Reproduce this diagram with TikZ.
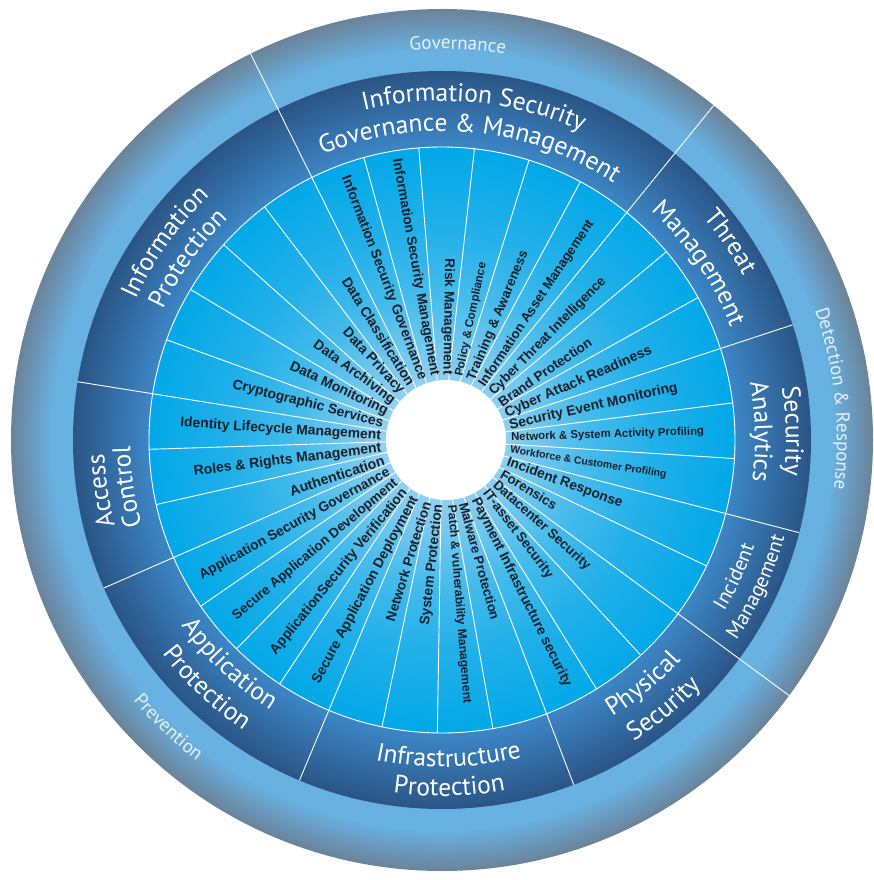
\documentclass[tikz,border=0pt]{standalone}
\usepackage{fontspec}
\usepackage{graphicx}
\usetikzlibrary{decorations.text}
\setmainfont{Liberation Sans}
\newfontfamily\ringfont{PT Sans}

% palette
\definecolor{rimlight}{HTML}{68B2E2}
\definecolor{rimgrey}{HTML}{6A8399}
\definecolor{bandouter}{HTML}{2A5585}
\definecolor{bandinner}{HTML}{3C86C6}
\definecolor{coreglow}{HTML}{B2E2F7}
\definecolor{corenear}{HTML}{8CCFEF}
\definecolor{coremid}{HTML}{45BBEB}
\definecolor{corefar}{HTML}{22B0E9}
\definecolor{coreedge}{HTML}{02A8E8}
\definecolor{labelink}{HTML}{18202C}
\definecolor{rimink}{HTML}{E8F2FA}

% radial shadings: 25bp is the rim of the shaded disc
\pgfdeclareradialshading{rimshade}{\pgfpoint{0bp}{0bp}}{color(0bp)=(rimlight); color(22.6bp)=(rimlight); color(25bp)=(rimgrey); color(50bp)=(rimgrey)}
\pgfdeclareradialshading{bandshade}{\pgfpoint{0bp}{0bp}}{color(0bp)=(bandinner); color(19.85bp)=(bandinner); color(25bp)=(bandouter); color(50bp)=(bandouter)}
\pgfdeclareradialshading{coreshade}{\pgfpoint{0bp}{0bp}}{color(0bp)=(coreglow); color(5.5bp)=(corenear); color(12.5bp)=(coremid); color(18bp)=(corefar); color(25bp)=(coreedge); color(50bp)=(coreedge)}

\tikzset{
  spoke/.style={white, line width=0.9pt},
  divider/.style={white, line width=0.9pt},
  sublabel/.style={inner sep=0pt, text=labelink, font=\bfseries},
  ringlabel/.style={decorate, decoration={text along path, text align=center, text color=#1}},
}

% curved text: centre angle, radius, font, text, colour
\newcommand\ringcw[5]{\path[ringlabel=#5, decoration={text={|#3|#4}}] ({#1+50}:#2) arc[start angle={#1+50}, end angle={#1-50}, radius=#2];}
\newcommand\ringccw[5]{\path[ringlabel=#5, decoration={text={|#3|#4}}] ({#1-50}:#2) arc[start angle={#1-50}, end angle={#1+50}, radius=#2];}
\newcommand\bandfont{\ringfont\fontsize{25.5}{30}\selectfont}
\newcommand\bandsmall{\ringfont\fontsize{20.5}{24}\selectfont}
\newcommand\rimfont{\ringfont\fontsize{19}{23}\selectfont}

\begin{document}
\begin{tikzpicture}[x=1pt, y=1pt]
\useasboundingbox (-442,-440) rectangle (431,440);

% three rings
\shade[shading=rimshade] (0,0) circle (431);
\shade[shading=bandshade] (0,0) circle (369);
\shade[shading=coreshade] (0,0) circle (293);

% spokes of the 33 sub-domains
\foreach \k in {0,...,32}
  \draw[spoke] (0,0) -- ({94.55-\k*360/33}:293);
\draw[divider] (0,0) circle (293);

% domain dividers in the band, three of them run through the rim
\foreach \k in {7,10,15,19,23,26}
  \draw[divider] ({94.55-\k*360/33}:293) -- ({94.55-\k*360/33}:369);
\foreach \k in {4,12,31}
  \draw[divider] ({94.55-\k*360/33}:293) -- ({94.55-\k*360/33}:431);

% hub
\fill[white] (4,0) circle (60);

% sub-domain labels, reading outward on the right
\begin{scope}[shift={(4,0)}]
\foreach \i/\llen/\txt in {
  1/116/{Policy \& Compliance},
  2/139/{Training \& Awareness},
  3/197/{Information Asset Management},
  4/160/{Cyber Threat Intelligence},
  5/110/{Brand Protection},
  6/159/{Cyber Attack Readiness},
  7/172/{Security Event Monitoring},
  8/193/{Network \& System Activity Profiling},
  9/158/{Workforce \& Customer Profiling},
  10/122/{Incident Response},
  11/63/{Forensics},
  12/126/{Datacenter Security},
  13/107/{IT-asset Security},
  14/209/{Payment Infrastructure security},
  15/121/{Malware Protection},
  16/199/{Patch \& vulnerability Management}} {
  \pgfmathsetmacro\labang{89.0909-\i*360/33}
  \node[sublabel, rotate=\labang, anchor=west] (s\i) at (\labang:65) {\resizebox{\llen pt}{!}{\txt}};
}
% and reading inward on the left
\foreach \i/\llen/\txt in {
  0/116/{Risk Management},
  17/121/{System Protection},
  18/124/{Network Protection},
  19/210/{Secure Application Deployment},
  20/209/{ApplicationSecurity Verification},
  21/211/{Secure Application Development},
  22/216/{Application Security Governance},
  23/99/{Authentication},
  24/189/{Roles \& Rights Management},
  25/201/{Identity Lifecycle Management},
  26/155/{Cryptographic Services},
  27/107/{Data Monitoring},
  28/98/{Data Archiving},
  29/84/{Data Privacy},
  30/125/{Data Classification},
  31/217/{Information Security Governance},
  32/220/{Information Security Management}} {
  \pgfmathsetmacro\labang{89.0909-\i*360/33}
  \node[sublabel, rotate=\labang+180, anchor=east] (s\i) at (\labang:65) {\resizebox{\llen pt}{!}{\txt}};
}
\end{scope}

% domain names in the band
\ringcw{84.5}{339}{\bandfont}{Information Security}{white}
\ringcw{84.5}{309}{\bandfont}{Governance {\&} Management}{white}
\ringcw{34.5}{343}{\bandfont}{Threat}{white}
\ringcw{34.5}{310}{\bandfont}{Management}{white}
\ringcw{1.5}{344}{\bandfont}{Security}{white}
\ringcw{1.5}{313}{\bandfont}{Analytics}{white}
\ringccw{-25}{330}{\bandsmall}{Incident}{white}
\ringccw{-25}{356}{\bandsmall}{Management}{white}
\ringccw{-50.5}{325}{\bandfont}{Physical}{white}
\ringccw{-50.5}{357}{\bandfont}{Security}{white}
\ringccw{-88.8}{327}{\bandfont}{Infrastructure}{white}
\ringccw{-88.8}{356}{\bandfont}{Protection}{white}
\ringccw{-133.5}{320}{\bandfont}{Application}{white}
\ringccw{-133.5}{352}{\bandfont}{Protection}{white}
\ringcw{188.5}{338}{\bandfont}{Access}{white}
\ringcw{188.5}{312}{\bandfont}{Control}{white}
\ringcw{144.5}{337}{\bandfont}{Information}{white}
\ringcw{144.5}{308}{\bandfont}{Protection}{white}

% phase names in the rim
\ringcw{87.7}{391}{\rimfont}{Governance}{rimink}
\ringcw{6}{395}{\rimfont}{Detection {\&} Response}{rimink}
\ringccw{-133.6}{404}{\rimfont}{Prevention}{rimink}
\end{tikzpicture}
\end{document}
